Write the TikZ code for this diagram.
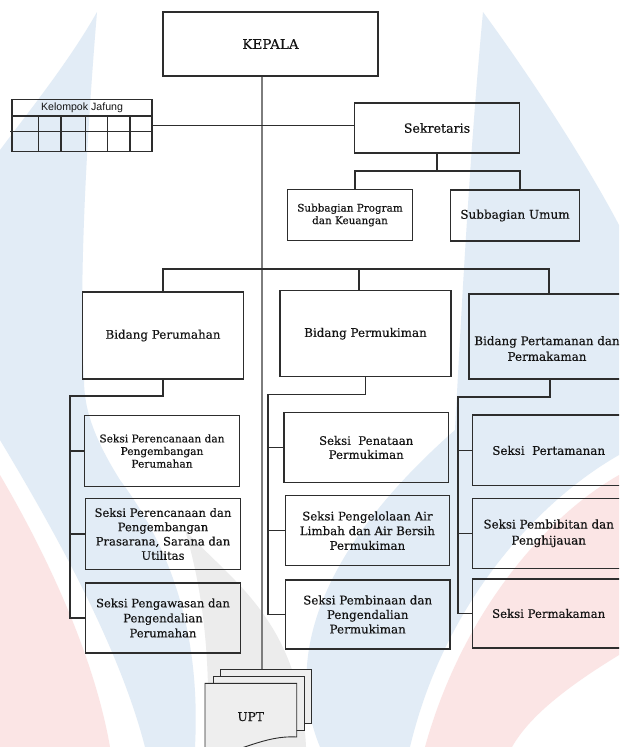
\documentclass[tikz,border=0pt]{standalone}
\usepackage{fontspec}
\setmainfont{DejaVu Serif}[FakeBold=0.3]
\newfontfamily\jafont{Liberation Sans}
\definecolor{wmblue}{RGB}{226,236,246}
\definecolor{wmpink}{RGB}{251,229,229}
\definecolor{wmgray}{RGB}{236,236,236}
\definecolor{linec}{RGB}{45,45,45}
\definecolor{mainc}{RGB}{125,125,125}
\definecolor{textc}{RGB}{20,20,20}
\definecolor{pagec}{RGB}{238,238,238}
\tikzset{
  box/.style={draw=linec, line width=1.15pt, inner sep=0pt, align=center, text=textc},
  conn/.style={draw=linec, line width=1.1pt},
  mainline/.style={draw=mainc, line width=1.4pt},
  page/.style={draw=linec, line width=0.9pt, fill=pagec, inner sep=0pt}
}
\begin{document}
\begin{tikzpicture}[x=1pt,y=-1pt]
\useasboundingbox (0,0) rectangle (619,747);
\clip (0,0) rectangle (619,747);
\fill[white] (0,0) rectangle (619,747);
% watermark
\fill[wmblue] (97,12) .. controls (70,60) and (30,110) .. (0,150) -- (0,440)
  .. controls (60,540) and (120,650) .. (145,747) -- (195,747)
  .. controls (200,650) and (180,560) .. (120,480)
  .. controls (95,440) and (84,410) .. (84,380)
  .. controls (78,280) and (88,120) .. (97,12) -- cycle;
\fill[wmpink] (0,475) .. controls (50,560) and (95,660) .. (110,747) -- (0,747) -- cycle;
\fill[wmgray] (185,530) .. controls (230,580) and (300,620) .. (306,747) -- (207,747)
  .. controls (212,650) and (200,580) .. (185,530) -- cycle;
\fill[wmblue] (483,12) .. controls (540,90) and (590,170) .. (619,225) -- (619,455)
  .. controls (540,500) and (445,600) .. (410,747) -- (320,747)
  .. controls (280,650) and (330,540) .. (455,430)
  .. controls (462,300) and (470,150) .. (483,12) -- cycle;
\fill[wmpink] (425,747) .. controls (460,620) and (540,520) .. (619,475) -- (619,655)
  .. controls (570,685) and (530,715) .. (512,747) -- cycle;

% top
\node[box, minimum width=215pt, minimum height=64pt, font=\fontsize{13.5}{16.5}\selectfont] (kep) at (270.5,44) {KEPALA};
\node[box, minimum width=165.5pt, minimum height=50pt, font=\fontsize{12.6}{15}\selectfont] (sek) at (437,128) {Sekretaris};
\node[box, minimum width=124.5pt, minimum height=51.7pt, font=\fontsize{10.4}{12.5}\selectfont] (sp) at (350,215) {Subbagian Program\\dan Keuangan};
\node[box, minimum width=129.5pt, minimum height=51pt, font=\fontsize{12}{14}\selectfont] (su) at (515,215.5) {Subbagian Umum};

% Kelompok Jafung table
\node[draw=linec, line width=1.1pt, minimum width=140pt, minimum height=51.7pt, inner sep=0pt] (jaf) at (82,125.2) {};
\node[font=\jafont\fontsize{10.6}{12}\selectfont, text=textc, inner sep=0pt] (jaft) at (82,108) {Kelompok Jafung};
\draw[conn] (12,116) -- (152,116);
\draw[conn] (10,131.7) -- (152,131.7);
\foreach \cx in {38.3,61,85.7,107.7,130} \draw[conn] (\cx,116) -- (\cx,151);

% bidang
\node[box, minimum width=161.6pt, minimum height=87pt, font=\fontsize{11.9}{14}\selectfont] (bpr) at (163,335.5) {Bidang Perumahan};
\node[box, minimum width=171pt, minimum height=86pt, font=\fontsize{11.9}{14}\selectfont] (bpm) at (365.5,333.7) {Bidang Permukiman};
\node[box, minimum width=156pt, minimum height=85pt] (bpt) at (547,336.5) {};
\node[align=center, text=textc, font=\fontsize{11.9}{15.7}\selectfont, inner sep=0pt] (bptt) at ([yshift=-12pt]bpt.center) {Bidang Pertamanan dan\\Permakaman};

% seksi left
\node[box, minimum width=155pt, minimum height=71.7pt, font=\fontsize{10.6}{12.6}\selectfont] (l1) at (162,451) {Seksi Perencanaan dan\\Pengembangan\\Perumahan};
\node[box, minimum width=154.7pt, minimum height=71pt, font=\fontsize{11.6}{14.3}\selectfont] (l2) at (163,534) {Seksi Perencanaan dan\\Pengembangan\\Prasarana, Sarana dan\\Utilitas};
\node[box, minimum width=155.5pt, minimum height=70pt, font=\fontsize{11.6}{15}\selectfont] (l3) at (163,618) {Seksi Pengawasan dan\\Pengendalian\\Perumahan};
% seksi middle
\node[box, minimum width=164.5pt, minimum height=69.6pt, font=\fontsize{11.7}{14}\selectfont] (m1) at (366.2,447.5) {Seksi\ \ Penataan\\Permukiman};
\node[box, minimum width=163.9pt, minimum height=70pt, font=\fontsize{11.8}{14.7}\selectfont] (m2) at (367.4,530.7) {Seksi Pengelolaan Air\\Limbah dan Air Bersih\\Permukiman};
\node[box, minimum width=164.6pt, minimum height=69pt, font=\fontsize{11.9}{14.5}\selectfont] (m3) at (367.7,614.5) {Seksi Pembinaan dan\\Pengendalian\\Permukiman};
% seksi right
\node[box, minimum width=152.2pt, minimum height=70.7pt, font=\fontsize{11.9}{14}\selectfont] (r1) at (548.7,450.4) {Seksi\ \ Pertamanan};
\node[box, minimum width=152.2pt, minimum height=70pt, font=\fontsize{11.9}{16}\selectfont] (r2) at (548.7,533.3) {Seksi Pembibitan dan\\Penghijauan};
\node[box, minimum width=152.2pt, minimum height=69pt, font=\fontsize{11.7}{14}\selectfont] (r3) at (548.7,613.5) {Seksi Permakaman};

% UPT
\node[page, minimum width=91pt, minimum height=54pt] (upt3) at (266.2,696.3) {};
\node[page, minimum width=90.7pt, minimum height=54pt] (upt2) at (258.65,703) {};
\draw[page] (205,683.3) -- (296.7,683.3) -- (296.7,737) .. controls (265,735) and (240,752) .. (205,758) -- cycle;
\node[text=textc, font=\fontsize{12.1}{14}\selectfont, inner sep=0pt] (upt) at (250.7,716.7) {UPT};

% connectors
\coordinate (mx) at (262,0);
\draw[mainline] (kep.south -| mx) -- (upt3.north -| mx);
\draw[conn] (jaf.east) -- (jaf.east -| sek.west);
\coordinate (sbus) at (0,171);
\draw[conn] (sek.south) -- (sek.south |- sbus);
\draw[conn] ([xshift=5pt]sp.north) -- ([xshift=5pt]sp.north |- sbus) -- ([xshift=5pt]su.north |- sbus) -- ([xshift=5pt]su.north);
\coordinate (bus) at (0,269);
\draw[conn] (bpr.north) -- (bpr.north |- bus) -- ([xshift=2pt]bpt.north |- bus) -- ([xshift=2pt]bpt.north);
\draw[conn] ([xshift=-6.5pt]bpm.north) -- ([xshift=-6.5pt]bpm.north |- bus);
% left column
\coordinate (sL) at (70,396);
\draw[conn] (bpr.south) -- (bpr.south |- sL) -- (sL) -- (sL |- l3.west) -- (l3.west);
\draw[conn] (sL |- l1.west) -- (l1.west);
\draw[conn] (sL |- l2.west) -- (l2.west);
% middle column
\coordinate (sM) at (268,394.7);
\draw[conn] (bpm.south) -- (bpm.south |- sM) -- (sM) -- (sM |- m3.west) -- (m3.west);
\draw[conn] (sM |- m1.west) -- (m1.west);
\draw[conn] (sM |- m2.west) -- (m2.west);
% right column
\coordinate (sR) at (458,397);
\draw[conn] ([xshift=3pt]bpt.south) -- ([xshift=3pt]bpt.south |- sR) -- (sR) -- (sR |- r3.west) -- (r3.west);
\draw[conn] (sR |- r1.west) -- (r1.west);
\draw[conn] (sR |- r2.west) -- (r2.west);
\end{tikzpicture}
\end{document}
